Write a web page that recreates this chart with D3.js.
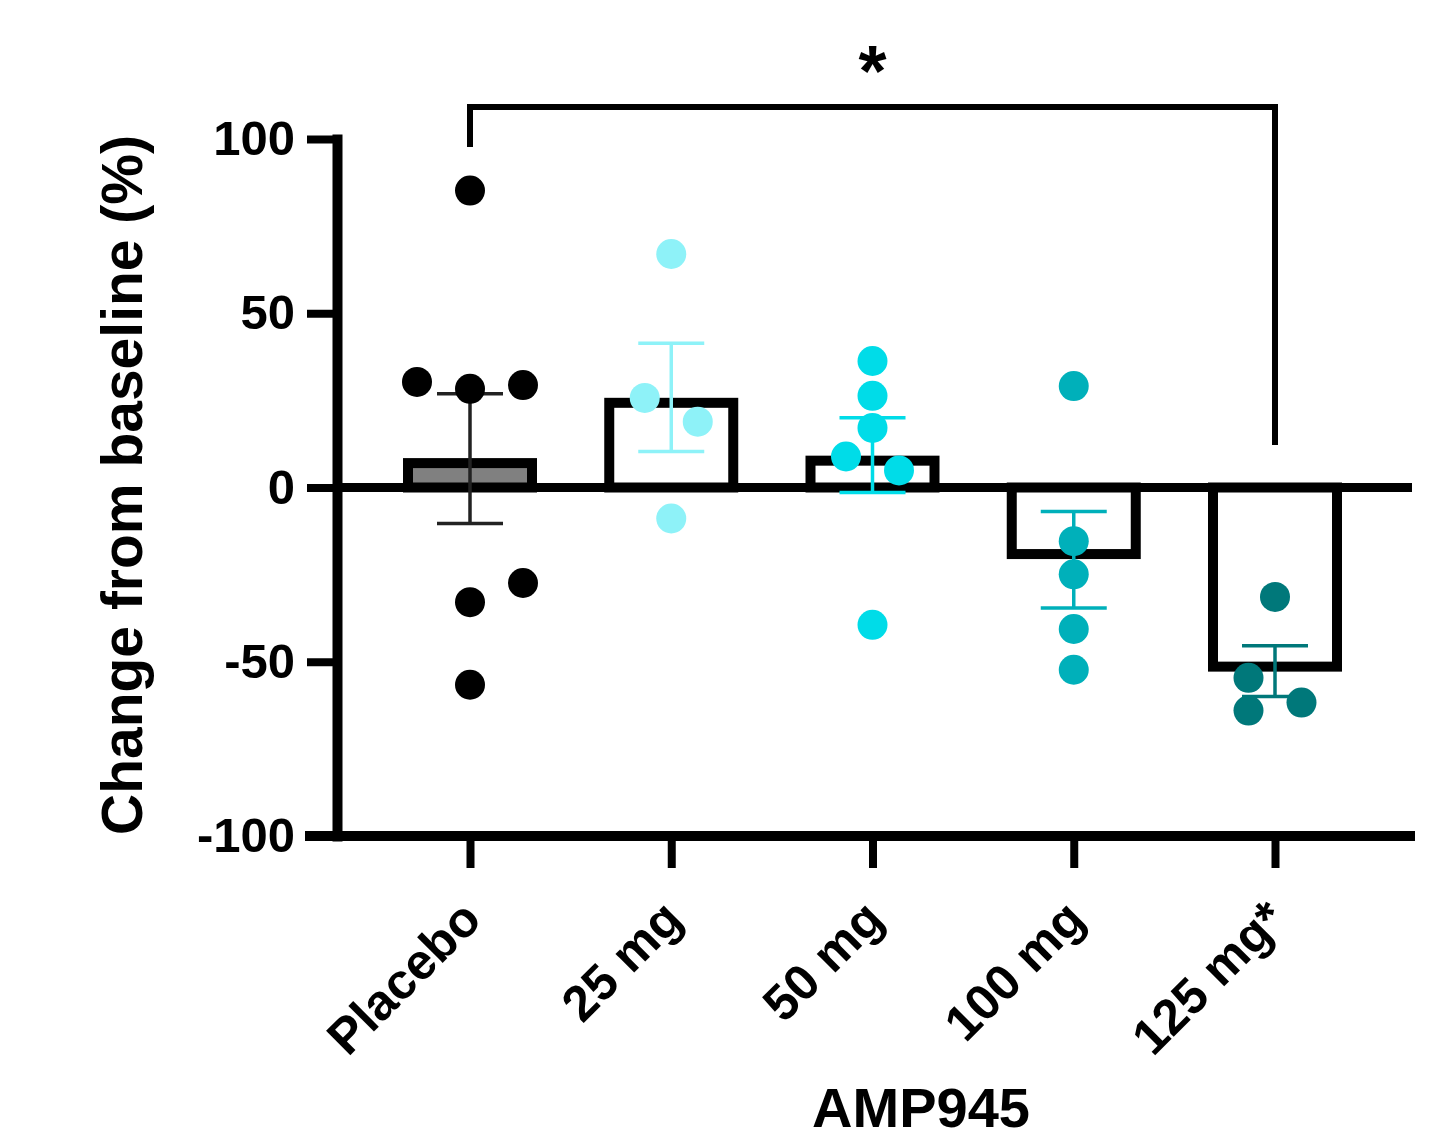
<!DOCTYPE html>
<html>
<head>
<meta charset="utf-8">
<script src="https://cdn.jsdelivr.net/npm/d3@7"></script>
<style>
  body { margin: 0; background: #fff; }
  svg text { font-family: "Liberation Sans", Arial, sans-serif; font-weight: bold; }
</style>
</head>
<body>
<svg id="chart" width="1451" height="1141"></svg>
<script>
// change from baseline, AMP945 dose groups

var groups = ["Placebo", "25 mg", "50 mg", "100 mg", "125 mg*"];
var colors = ["#000000", "#8ef2f8", "#00dce8", "#00b0ba", "#00787a"];
var means = [7, 24.3, 7.7, -19.1, -51.4];
var errLow = [-10.3, 10.3, -1.4, -34.6, -60];
var errHigh = [26.9, 41.4, 20, -6.9, -45.4];
var yTicks = [-100, -50, 0, 50, 100];

// individual subjects per group, value and lane (lane = column in the scatter)
var pts0 = [85.2, 30.3, 28.3, 29.4, -27.4, -32.9, -56.6];
var lane0 = [0, -2, 0, 2, 2, 0, 0];
var pts1 = [67, 25.7, 18.9, -8.9];
var lane1 = [0, -1, 1, 0];
var pts2 = [36.3, 26.3, 17.1, 8.9, 4.9, -39.4];
var lane2 = [0, 0, 0, -1, 1, 0];
var pts3 = [29.1, -15.4, -24.9, -40.6, -52.3];
var lane3 = [0, 0, 0, 0, 0];
var pts4 = [-31.4, -54.6, -64, -61.7];
var lane4 = [0, -1, -1, 1];

var allPts = [pts0, pts1, pts2, pts3, pts4];
var allLanes = [lane0, lane1, lane2, lane3, lane4];

var svg = d3.select("#chart");

var x = d3.scalePoint().domain(groups).range([470, 1275]);
var y = d3.scaleLinear().domain([-100, 100]).range([836, 139]);
var lane = d3.scaleLinear().domain([0, 1]).range([0, 26.5]);

var barW = 124;

// bars
svg.append("g").selectAll("rect")
  .data(groups)
  .join("rect")
  .attr("x", function(d) { return x(d) - barW / 2; })
  .attr("width", barW)
  .attr("y", function(d, i) { return y(Math.max(0, means[i])); })
  .attr("height", function(d, i) { return Math.abs(y(means[i]) - y(0)); })
  .attr("fill", function(d, i) { return i === 0 ? "#808080" : "#fff"; })
  .attr("stroke", "#000")
  .attr("stroke-width", 10);

// zero line
svg.append("line")
  .attr("x1", 337).attr("x2", 1412)
  .attr("y1", y(0)).attr("y2", y(0))
  .attr("stroke", "#000").attr("stroke-width", 9);

// y axis
var yAxis = svg.append("g")
  .attr("transform", "translate(337,0)")
  .call(d3.axisLeft(y).tickValues(yTicks).tickFormat(function(d) { return String(d); })
    .tickSize(30).tickSizeOuter(0).tickPadding(12));
yAxis.select(".domain").attr("stroke-width", 10).attr("stroke-linecap", "square");
yAxis.selectAll(".tick line").attr("stroke-width", 8);
yAxis.selectAll(".tick text").attr("font-size", 49).attr("fill", "#000")
  .attr("font-family", "Liberation Sans, Arial, sans-serif");

// x axis
svg.append("line")
  .attr("x1", 305).attr("x2", 1415)
  .attr("y1", 836).attr("y2", 836)
  .attr("stroke", "#000").attr("stroke-width", 10);
var xAxis = svg.append("g")
  .attr("transform", "translate(0,836)")
  .call(d3.axisBottom(x).tickSize(32).tickSizeOuter(0));
xAxis.select(".domain").remove();
xAxis.selectAll(".tick line").attr("stroke-width", 8);
xAxis.selectAll(".tick text")
  .attr("font-size", 50).attr("fill", "#000")
  .attr("font-family", "Liberation Sans, Arial, sans-serif")
  .attr("text-anchor", "end")
  .attr("dy", null).attr("y", 0)
  .attr("transform", "translate(13,86) rotate(-45)");

// error bars
var eb = svg.append("g").selectAll("g")
  .data(groups)
  .join("g")
  .attr("stroke", function(d, i) { return i === 0 ? "#222" : colors[i]; })
  .attr("stroke-width", 3.5);
eb.append("line")
  .attr("x1", function(d) { return x(d); }).attr("x2", function(d) { return x(d); })
  .attr("y1", function(d, i) { return y(errLow[i]); })
  .attr("y2", function(d, i) { return y(errHigh[i]); });
eb.append("line")
  .attr("x1", function(d) { return x(d) - 33; }).attr("x2", function(d) { return x(d) + 33; })
  .attr("y1", function(d, i) { return y(errLow[i]); })
  .attr("y2", function(d, i) { return y(errLow[i]); });
eb.append("line")
  .attr("x1", function(d) { return x(d) - 33; }).attr("x2", function(d) { return x(d) + 33; })
  .attr("y1", function(d, i) { return y(errHigh[i]); })
  .attr("y2", function(d, i) { return y(errHigh[i]); });

// points
groups.forEach(function(g, i) {
  svg.append("g").selectAll("circle")
    .data(allPts[i])
    .join("circle")
    .attr("cx", function(d, j) { return x(g) + lane(allLanes[i][j]); })
    .attr("cy", function(d) { return y(d); })
    .attr("r", 15)
    .attr("fill", colors[i]);
});

// significance bracket
svg.append("path")
  .attr("d", "M" + x(groups[0]) + "," + (y(100) + 8) + "V107H" + x(groups[4]) + "V445")
  .attr("fill", "none").attr("stroke", "#000").attr("stroke-width", 6);
svg.append("text")
  .attr("x", x(groups[2])).attr("y", 96)
  .attr("text-anchor", "middle").attr("font-size", 72)
  .text("*");

// axis titles
svg.append("text")
  .attr("transform", "translate(142,485) rotate(-90)")
  .attr("text-anchor", "middle").attr("font-size", 57)
  .text("Change from baseline (%)");
svg.append("text")
  .attr("x", 921).attr("y", 1127)
  .attr("text-anchor", "middle").attr("font-size", 56)
  .text("AMP945");
</script>
</body>
</html>
